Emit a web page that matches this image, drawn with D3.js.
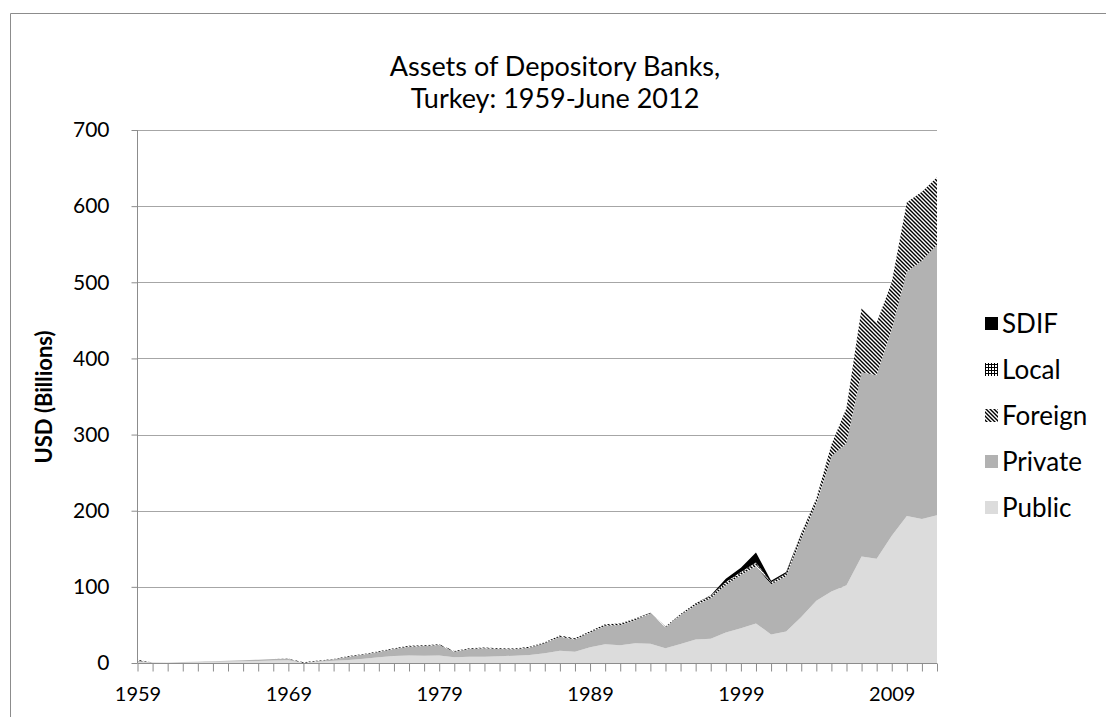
<!DOCTYPE html>
<html>
<head>
<meta charset="utf-8">
<script src="https://cdn.jsdelivr.net/npm/d3@7"></script>
<style>
  html, body { margin: 0; padding: 0; background: #fff; }
  svg { display: block; font-family: Lato, "Open Sans", sans-serif; }
</style>
</head>
<body>
<svg id="chart" width="1106" height="717"></svg>
<script>
// ---- data (USD billions) ----
const years = d3.range(1959, 2013);
const seriesNames = ["Public", "Private", "Foreign", "Local", "SDIF"];
const publicVals = [1.5, 0.3, 0.5, 0.8, 1.1, 1.5, 1.9, 2.3, 2.7, 3.2, 3.6,
  0, 1.5, 3.0, 4.0, 5.7, 7.4, 9.2, 10.0, 9.6, 10.0,
  7.4, 8.3, 8.3, 9.0, 9.6, 10.5, 12.7, 16.2, 14.9, 20.6,
  24.5, 23.2, 25.8, 25.3, 19.3, 25, 31, 32, 40, 45.5,
  52, 37.5, 41.5, 60.5, 81.7, 94, 102, 140, 137, 167,
  193, 189, 194];
const privateVals = [1.5, 0.2, 0.3, 0.5, 0.7, 0.9, 1.1, 1.4, 1.6, 1.9, 2.0,
  0, 1.0, 1.8, 4.3, 5.3, 7.0, 9.2, 11.5, 12.7, 13.5,
  7.5, 10.1, 11.0, 9.4, 8.4, 9.5, 13.1, 18.4, 16.1, 19.4,
  24.5, 26.8, 30.7, 39.7, 27.7, 38, 45, 53, 62, 70,
  75, 65.5, 72.5, 102.5, 127.3, 177, 187, 242, 241, 271,
  321, 339, 355];
const foreignVals = [1.2, 0, 0, 0, 0, 0, 0, 0, 0, 0, 0.3,
  1.0, 0.8, 0.6, 0.8, 0.9, 0.9, 1.0, 1.0, 1.0, 1.0,
  0.9, 1.0, 1.0, 1.0, 1.1, 1.2, 1.3, 1.5, 1.4, 1.6,
  1.8, 1.8, 1.8, 0.8, 0.8, 1.5, 2.5, 3, 3.5, 3,
  4, 2.5, 3.5, 7, 7, 16, 46, 84, 69, 62,
  91, 91, 89];
const localVals = [0, 0, 0, 0, 0, 0, 0, 0, 0, 0, 0,
  0, 0, 0, 0, 0, 0, 0, 0, 0, 0,
  0, 0, 0, 0, 0, 0, 0, 0, 0, 0,
  0, 0, 0, 0, 0, 0, 0, 0.5, 1, 1,
  1, 0.5, 0, 0, 0, 0, 0, 0, 0, 0,
  0, 0, 0];
const sdifVals = [0, 0, 0, 0, 0, 0, 0, 0, 0, 0, 0,
  0, 0, 0, 0, 0, 0, 0, 0, 0, 0,
  0, 0, 0, 0, 0, 0, 0, 0, 0, 0,
  0, 0, 0, 0.3, 0, 0, 0, 0.5, 4, 5.5,
  13, 2, 2, 0.5, 0, 0, 0, 0, 0, 0,
  0, 0, 0];
const yTicks = [0, 100, 200, 300, 400, 500, 600, 700];
const xLabelYears = [1959, 1969, 1979, 1989, 1999, 2009];
const titleLines = ["Assets of Depository Banks,", "Turkey: 1959-June 2012"];
const yTitle = "USD (Billions)";
const legendOrder = ["SDIF", "Local", "Foreign", "Private", "Public"];

// ---- table for stack ----
const table = years.map((yr, i) => ({
  year: yr, Public: publicVals[i], Private: privateVals[i],
  Foreign: foreignVals[i], Local: localVals[i], SDIF: sdifVals[i]
}));

const svg = d3.select("#chart");
const defs = svg.append("defs");

// patterns
const pf = defs.append("pattern").attr("id", "pat-foreign")
  .attr("patternUnits", "userSpaceOnUse").attr("width", 4).attr("height", 4);
pf.append("rect").attr("width", 4).attr("height", 4).attr("fill", "#fff");
pf.append("path").attr("d", "M-1,-1 L5,5 M-1,3 L1,5 M3,-1 L5,1")
  .attr("stroke", "#000").attr("stroke-width", 1.4);

const pl = defs.append("pattern").attr("id", "pat-local")
  .attr("patternUnits", "userSpaceOnUse").attr("width", 3).attr("height", 3);
pl.append("rect").attr("width", 3).attr("height", 3).attr("fill", "#fff");
pl.append("path").attr("d", "M0,0.5 H3 M0.5,0 V3").attr("stroke", "#000").attr("stroke-width", 1);

const fills = {
  Public: "#dcdcdc",
  Private: "#b2b2b2",
  Foreign: "url(#pat-foreign)",
  Local: "url(#pat-local)",
  SDIF: "#000"
};

// chart frame
svg.append("path").attr("d", "M10.5,717 V13.5 H1106")
  .attr("fill", "none").attr("stroke", "#8c8c8c").attr("stroke-width", 1);

const x = d3.scaleLinear().domain([1959, 2012]).range([137.5, 937]);
const y = d3.scaleLinear().domain([0, 700]).range([663, 130]);

// gridlines
svg.append("g").selectAll("line").data(yTicks.filter(d => d > 0)).join("line")
  .attr("x1", x(1959)).attr("x2", x(2012))
  .attr("y1", d => Math.round(y(d)) + 0.5).attr("y2", d => Math.round(y(d)) + 0.5)
  .attr("stroke", "#a6a6a6").attr("stroke-width", 1.2);

// stacked areas
const stack = d3.stack().keys(seriesNames);
const layers = stack(table);
const area = d3.area()
  .x(d => x(d.data.year))
  .y0(d => y(d[0]))
  .y1(d => y(d[1]));

svg.append("g").selectAll("path").data(layers).join("path")
  .attr("d", area)
  .attr("fill", d => fills[d.key]);

// axes
const yAxis = d3.axisLeft(y).tickValues(yTicks).tickSize(6).tickPadding(22)
  .tickFormat(d3.format("d"));
const gy = svg.append("g").attr("transform", "translate(137.5,0)").call(yAxis);
gy.select(".domain").attr("stroke", "#8c8c8c").attr("d", "M0,130V663");
gy.selectAll(".tick line").attr("stroke", "#8c8c8c");
gy.selectAll(".tick text").attr("font-size", 21).attr("fill", "#000")
  .attr("font-family", "Lato, 'Open Sans', sans-serif");

const xAxis = d3.axisBottom(x).tickValues(years).tickSize(8).tickPadding(15)
  .tickFormat(d => xLabelYears.includes(d) ? String(d) : "");
const gx = svg.append("g").attr("transform", "translate(0,663.5)").call(xAxis);
gx.select(".domain").attr("stroke", "#8c8c8c").attr("d", "M137.5,0H937");
gx.selectAll(".tick line").attr("stroke", "#8c8c8c");
gx.selectAll(".tick text").attr("font-size", 20).attr("fill", "#000")
  .attr("font-family", "Lato, 'Open Sans', sans-serif");

// title
svg.append("g").selectAll("text").data(titleLines).join("text")
  .attr("x", 555).attr("y", (d, i) => 76 + i * 32)
  .attr("text-anchor", "middle").attr("font-size", 27).attr("fill", "#000")
  .text(d => d);

// y title
svg.append("text").attr("transform", "translate(52,397) rotate(-90)")
  .attr("text-anchor", "middle").attr("font-size", 22).attr("font-weight", "bold")
  .attr("fill", "#000").text(yTitle);

// legend
const lg = svg.append("g").selectAll("g").data(legendOrder).join("g")
  .attr("transform", (d, i) => `translate(985,${324 + i * 46})`);
lg.append("rect").attr("x", 0).attr("y", -7).attr("width", 13).attr("height", 13)
  .attr("fill", d => fills[d]);
lg.append("text").attr("x", 17).attr("y", 0).attr("dy", "0.36em")
  .attr("font-size", 26).attr("fill", "#000").text(d => d);
</script>
</body>
</html>
